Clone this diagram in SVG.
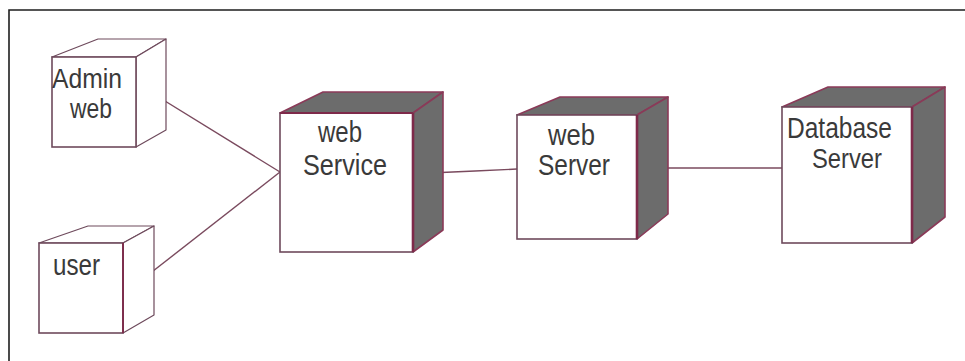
<svg xmlns="http://www.w3.org/2000/svg" width="965" height="361" viewBox="0 0 965 361">
<style>
.frame{fill:none;stroke:#1e1e1e;stroke-width:1.6}
.front{fill:#ffffff;stroke:#6e4a5c;stroke-width:1.6}
.plain{fill:#ffffff;stroke:#6e4a5c;stroke-width:1.2;stroke-linejoin:round}
.shade{fill:#6c6c6c;stroke:#8a3a58;stroke-width:1.6;stroke-linejoin:round}
.edge{stroke:#7e2a4a;stroke-width:2.6;fill:none}
.conn{fill:none;stroke:#7a4a5e;stroke-width:1.4}
text{font-family:"Liberation Sans",Arial,sans-serif;font-size:30px;fill:#3a3a3a}
</style>
<rect width="965" height="361" fill="#ffffff"/>
<polyline class="frame" points="9,361 9,10 965,10"/>
<g id="connectors">
<line class="conn" x1="152" y1="93" x2="280" y2="172"/>
<line class="conn" x1="139" y1="282" x2="280" y2="172"/>
<polyline class="conn" points="430,173 475,171 517,169"/>
<line class="conn" x1="648" y1="168" x2="782" y2="168"/>
</g>
<g id="admin-web">
<polygon class="plain" points="52,57 98,39 166,39 136,57"/>
<polygon class="plain" points="136,57 166,39 166,130 136,147"/>
<rect class="front" x="52" y="57" width="84" height="90"/>
<text x="52" y="88" textLength="70" lengthAdjust="spacingAndGlyphs" style="font-size:28px">Admin</text>
<text x="70" y="118" textLength="42" lengthAdjust="spacingAndGlyphs" style="font-size:28px">web</text>
</g>
<g id="user">
<polygon class="plain" points="39,243 88,226 154,226 123,243"/>
<polygon class="plain" points="123,243 154,226 154,315 123,333"/>
<rect class="front" x="39" y="243" width="84" height="90"/>
<line class="edge" x1="123" y1="243" x2="123" y2="333" style="stroke-width:1.8"/>
<text x="53" y="275" textLength="47" lengthAdjust="spacingAndGlyphs">user</text>
</g>
<g id="web-service">
<polygon class="shade" points="280,113 323,92 443,92 413,113"/>
<polygon class="shade" points="413,113 443,92 443,230 413,252"/>
<rect class="front" x="280" y="113" width="133" height="139"/>
<line class="edge" x1="413" y1="113" x2="413" y2="252"/>
<line class="edge" x1="280" y1="113" x2="413" y2="113" style="stroke-width:1.8"/>
<text x="318" y="142" textLength="44" lengthAdjust="spacingAndGlyphs">web</text>
<text x="303" y="175" textLength="84" lengthAdjust="spacingAndGlyphs">Service</text>
</g>
<g id="web-server">
<polygon class="shade" points="517,115 560,97 668,97 637,115"/>
<polygon class="shade" points="637,115 668,97 668,214 637,239"/>
<rect class="front" x="517" y="115" width="120" height="124"/>
<line class="edge" x1="637" y1="115" x2="637" y2="239"/>
<text x="548" y="145" textLength="47" lengthAdjust="spacingAndGlyphs">web</text>
<text x="538" y="175" textLength="72" lengthAdjust="spacingAndGlyphs">Server</text>
</g>
<g id="database-server">
<polygon class="shade" points="782,107 828,87 945,87 912,107"/>
<polygon class="shade" points="912,107 945,87 945,217 912,243"/>
<rect class="front" x="782" y="107" width="130" height="136"/>
<line class="edge" x1="912" y1="107" x2="912" y2="243"/>
<text x="787" y="138" textLength="105" lengthAdjust="spacingAndGlyphs" style="font-size:29px">Database</text>
<text x="812" y="168" textLength="70" lengthAdjust="spacingAndGlyphs" style="font-size:28px">Server</text>
</g>
</svg>
